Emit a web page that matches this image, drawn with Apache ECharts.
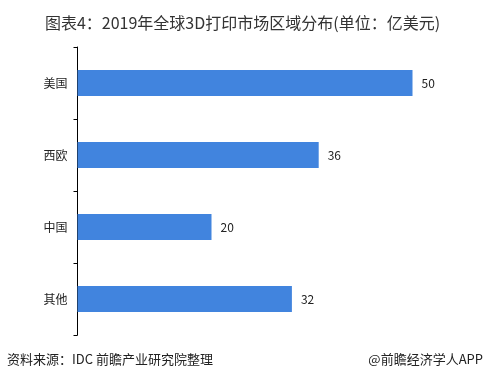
<!DOCTYPE html>
<html><head><meta charset="utf-8">
<script src="https://cdn.jsdelivr.net/npm/echarts@6/dist/echarts.min.js"></script>
<style>html,body{margin:0;padding:0;background:#fff}#c{width:485px;height:381px}</style>
</head><body><div id="c"></div>
<script>
const categories = ['美国', '西欧', '中国', '其他'];
const values = [50, 36, 20, 32];
const titleText = '图表4：2019年全球3D打印市场区域分布(单位：亿美元)';
const sourceText = '资料来源：IDC 前瞻产业研究院整理';
const brandText = '@前瞻经济学人APP';

const chart = echarts.init(document.getElementById('c'), null, {renderer: 'canvas'});
const font = '"Noto Sans CJK SC", sans-serif';
chart.setOption({
  animation: false,
  backgroundColor: '#fff',
  title: {
    text: titleText, left: 'center', top: 10,
    textStyle: {fontSize: 16, fontWeight: 'normal', color: '#333', fontFamily: font}
  },
  graphic: [
    {type: 'text', left: 7, top: 353, style: {text: sourceText, fontSize: 13, fill: '#222', fontFamily: font}},
    {type: 'text', right: 2, top: 353, style: {text: brandText, fontSize: 13, fill: '#222', fontFamily: font}}
  ],
  grid: {left: 77.5, top: 47, width: 402, height: 288, containLabel: false},
  xAxis: {
    type: 'value', min: 0, max: 60, show: false
  },
  yAxis: {
    type: 'category', data: categories, inverse: true,
    axisLine: {show: true, lineStyle: {color: '#000', width: 1}},
    axisTick: {show: true, length: 4, lineStyle: {color: '#000'}},
    axisLabel: {color: '#222', fontSize: 12, margin: 10, fontFamily: font}
  },
  series: [{
    type: 'bar', data: values, barWidth: 26,
    itemStyle: {color: '#4184DE'},
    label: {show: true, position: 'right', distance: 9, color: '#222', fontSize: 12, fontFamily: font}
  }]
});
</script></body></html>
